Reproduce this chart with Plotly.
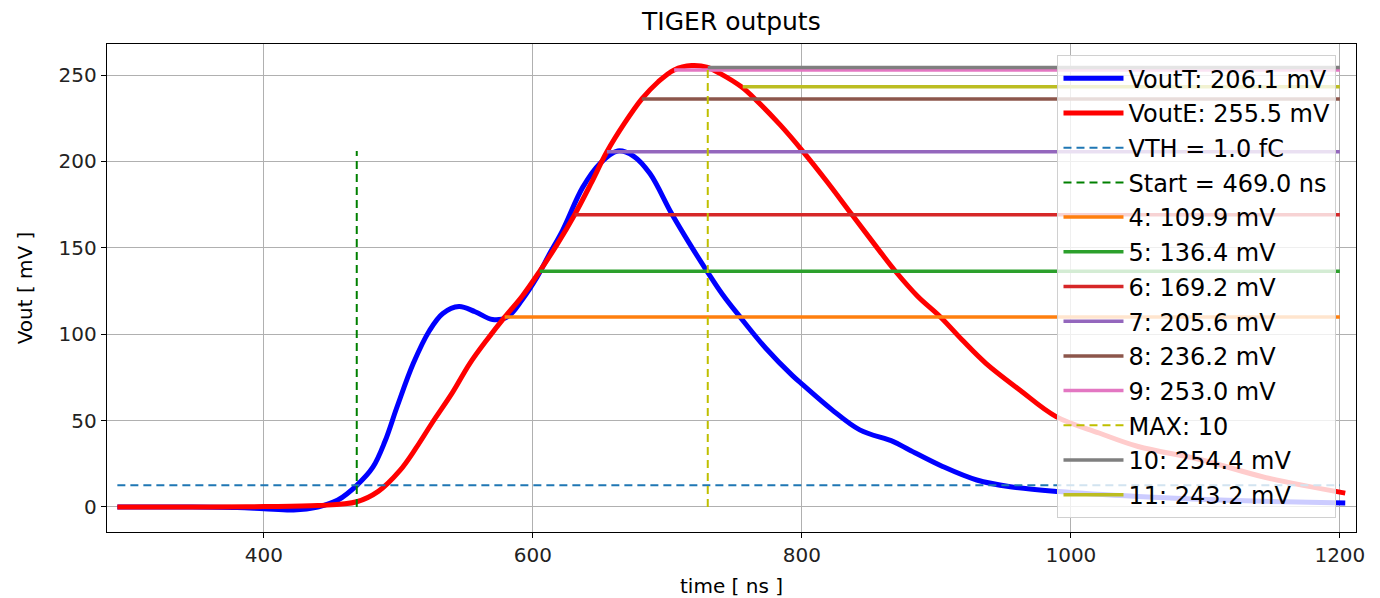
import plotly.graph_objects as go

# VoutT waveform (time in ns, amplitude in mV)
t_T = [291, 340, 380, 400, 422, 440, 455, 469, 481, 490, 499, 511, 523, 533, 545,
       557, 570, 581, 592, 603, 612, 622, 637, 650, 663, 675, 687, 703, 716, 729,
       741, 754, 773, 793, 801, 822, 843, 868, 880, 905, 930, 955, 991, 1050,
       1100, 1150, 1204]
v_T = [0, 0, -0.3, -1, -1.7, 0, 4, 12.5, 23, 38, 58, 83, 102, 112, 116,
       113, 108.5, 110, 120, 133, 146, 160, 185, 199, 206.1, 203, 193, 170, 153, 137,
       123, 110, 92, 76, 70.5, 56.5, 44.6, 37.8, 33, 23.3, 15.6, 11.7, 8.9, 6,
       4.3, 3.2, 2.3]

# VoutE waveform
t_E = [291, 360, 400, 440, 469, 485, 501, 513, 525, 540, 553, 566, 579, 592, 605,
       618, 631, 643, 655, 668, 681, 693, 705, 718, 730, 739, 755, 766, 784, 801,
       819, 837, 854, 870, 886, 903, 920, 937, 962, 989, 1021, 1050, 1096, 1145,
       1204]
v_E = [0, 0, 0.2, 0.8, 3, 9, 21, 34, 48.6, 66, 83, 97, 109.9, 122, 136.4,
       152, 169.2, 187, 205.6, 222, 236.2, 246, 253.0, 255.5, 254.4, 251, 243.2, 235.5, 221, 205.6,
       188, 169.4, 152, 136, 122, 110, 96, 83, 67.7, 52.3, 42.8, 35, 27.5, 17,
       8]

# Threshold, start time and max sample
vth_level = 12.5
vth_span = [291, 1200]
start_time = 469.0
start_top = 206.1
max_index = 10
max_time = 730
max_top = 254.4

# Sampled levels
sample_idx = [4, 5, 6, 7, 8, 9, 10, 11]
sample_time = [579, 605, 631, 655, 681, 705, 730, 756]
sample_val = [109.9, 136.4, 169.2, 205.6, 236.2, 253.0, 254.4, 243.2]
sample_end = 1200
sample_colors = ["#ff7f0e", "#2ca02c", "#d62728", "#9467bd", "#8c564b", "#e377c2",
                 "#7f7f7f", "#bcbd22"]

fig = go.Figure()

fig.add_trace(go.Scatter(x=t_T, y=v_T, mode="lines", name="VoutT: 206.1 mV",
                         line=dict(color="#0000ff", width=5, shape="spline", smoothing=1.0)))
fig.add_trace(go.Scatter(x=t_E, y=v_E, mode="lines", name="VoutE: 255.5 mV",
                         line=dict(color="#ff0000", width=5, shape="spline", smoothing=1.0)))
fig.add_trace(go.Scatter(x=vth_span, y=[vth_level, vth_level], mode="lines",
                         name="VTH = 1.0 fC",
                         line=dict(color="#1f77b4", width=2, dash="8px,5px")))
fig.add_trace(go.Scatter(x=[start_time, start_time], y=[0, start_top], mode="lines",
                         name="Start = %.1f ns" % start_time,
                         line=dict(color="#008000", width=2, dash="8px,5px")))


def add_level(i):
    fig.add_trace(go.Scatter(x=[sample_time[i], sample_end], y=[sample_val[i]] * 2,
                             mode="lines",
                             name="%d: %.1f mV" % (sample_idx[i], sample_val[i]),
                             line=dict(color=sample_colors[i], width=3.5)))


for i in range(6):
    add_level(i)

fig.add_trace(go.Scatter(x=[max_time, max_time], y=[0, max_top], mode="lines",
                         name="MAX: %d" % max_index,
                         line=dict(color="#bfbf00", width=2, dash="8px,5px")))

for i in range(6, 8):
    add_level(i)

# one legend group per entry so the group gap sets the row pitch
for tr in fig.data:
    tr.legendgroup = tr.name

font_family = "DejaVu Sans"
axis_common = dict(
    showline=True, linecolor="black", linewidth=1.4, mirror=True,
    ticks="outside", ticklen=5, tickcolor="black", tickwidth=1.2,
    showgrid=True, gridcolor="#b0b0b0", gridwidth=1.2, zeroline=False,
    tickfont=dict(family=font_family, size=20, color="#222"),
    automargin=False,
)

fig.update_layout(
    width=1380, height=598,
    margin=dict(l=107, r=24, t=44, b=66),
    paper_bgcolor="white", plot_bgcolor="white",
    title=dict(text="TIGER outputs", x=0.53, xanchor="center", y=0.965, yanchor="middle",
               font=dict(family=font_family, size=25, color="black")),
    xaxis=dict(axis_common, range=[283.3, 1212], tickvals=[400, 600, 800, 1000, 1200],
               title=dict(text="time [ ns ]", font=dict(family=font_family, size=20, color="black"),
                          standoff=14)),
    yaxis=dict(axis_common, range=[-14.5, 268], tickvals=[0, 50, 100, 150, 200, 250],
               title=dict(text="Vout [ mV ]", font=dict(family=font_family, size=20, color="black"),
                          standoff=20)),
    legend=dict(x=0.761, y=0.977, xanchor="left", yanchor="top",
                bgcolor="rgba(255,255,255,0.8)", bordercolor="#d0d0d0", borderwidth=1,
                font=dict(family=font_family, size=24, color="black"),
                itemwidth=60, tracegroupgap=0.5),
    showlegend=True,
)

fig.write_html("out.html")
